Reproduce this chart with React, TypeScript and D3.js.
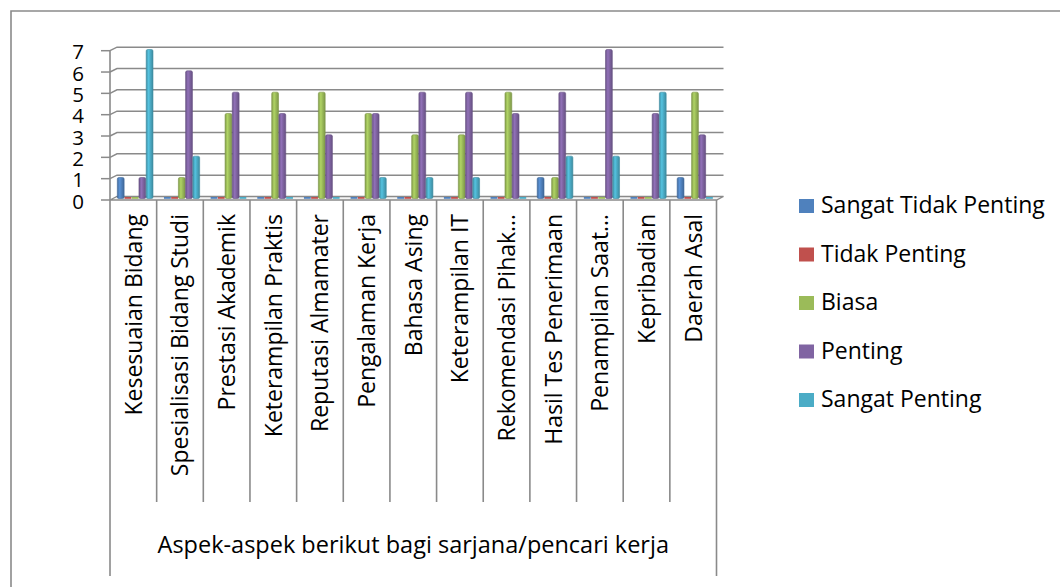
import React from "react";
import * as d3 from "d3";

const categories = [
  "Kesesuaian Bidang",
  "Spesialisasi Bidang Studi",
  "Prestasi Akademik",
  "Keterampilan Praktis",
  "Reputasi Almamater",
  "Pengalaman Kerja",
  "Bahasa Asing",
  "Keterampilan IT",
  "Rekomendasi Pihak…",
  "Hasil Tes Penerimaan",
  "Penampilan Saat…",
  "Kepribadian",
  "Daerah Asal",
];

const seriesNames = [
  "Sangat Tidak Penting",
  "Tidak Penting",
  "Biasa",
  "Penting",
  "Sangat Penting",
];

const sangatTidakPenting = [1, 0, 0, 0, 0, 0, 0, 0, 0, 1, 0, 0, 1];
const tidakPenting = [0, 0, 0, 0, 0, 0, 0, 0, 0, 0, 0, 0, 0];
const biasa = [0, 1, 4, 5, 5, 4, 3, 3, 5, 1, 0, 0, 5];
const penting = [1, 6, 5, 4, 3, 4, 5, 5, 4, 5, 7, 4, 3];
const sangatPenting = [7, 2, 0, 0, 0, 1, 1, 1, 0, 2, 2, 5, 0];

const yTicks = [0, 1, 2, 3, 4, 5, 6, 7];
const axisTitle = "Aspek-aspek berikut bagi sarjana/pencari kerja";

const colors = ["#4F81BD", "#C0504D", "#9BBB59", "#8064A2", "#4BACC6"];

const FONT = "'Open Sans', 'Noto Sans', sans-serif";

export default function App() {
  const seriesValues = [sangatTidakPenting, tidakPenting, biasa, penting, sangatPenting];
  const W = 1060;
  const H = 587;
  const plotLeft = 110;
  const plotRight = 716.5;
  const depthX = 7;
  const depthY = 3.5;

  const x0 = d3.scaleBand<string>().domain(categories).range([plotLeft, plotRight]).padding(0);
  const bw = x0.bandwidth();
  const x1 = d3
    .scaleBand<string>()
    .domain(seriesNames)
    .range([bw * 0.157, bw * 0.93])
    .padding(0);
  const y = d3.scaleLinear().domain([0, 7]).range([200, 50.7]);

  const grey = "#8a8a8a";

  const bars: React.ReactNode[] = [];
  categories.forEach((c, ci) => {
    seriesNames.forEach((s, si) => {
      const v = seriesValues[si][ci];
      const bx = (x0(c) as number) + (x1(s) as number);
      const w = x1.bandwidth() - 0.4;
      if (v === 0) {
        bars.push(
          <rect key={`${ci}-${si}`} x={bx} y={y(0) - 3} width={w} height={1.8} fill={colors[si]} />
        );
      } else {
        const top = y(v) - 1.2;
        const bottom = y(0) - 1.5;
        bars.push(
          <rect
            key={`${ci}-${si}`}
            x={bx}
            y={top}
            width={w}
            height={bottom - top}
            rx={1.5}
            fill={`url(#grad${si})`}
            stroke={d3.color(colors[si])!.darker(0.6).toString()}
            strokeWidth={0.6}
          />
        );
      }
    });
  });

  const boundaries = categories.map((c) => x0(c) as number).concat([plotRight]);

  return (
    <svg width={W} height={H} style={{ position: "absolute", left: 0, top: 0, background: "#fff" }}>
      <defs>
        {colors.map((col, i) => {
          const c = d3.color(col)!;
          return (
            <linearGradient key={i} id={`grad${i}`} x1="0" x2="1" y1="0" y2="0">
              <stop offset="0%" stopColor={c.darker(0.5).toString()} />
              <stop offset="35%" stopColor={c.brighter(0.35).toString()} />
              <stop offset="60%" stopColor={c.toString()} />
              <stop offset="100%" stopColor={c.darker(0.6).toString()} />
            </linearGradient>
          );
        })}
      </defs>
      <rect x={0} y={0} width={W} height={H} fill="#fff" />
      {/* outer frame */}
      <path d={`M11,${H + 5} L11,11 L${W + 5},11`} fill="none" stroke={grey} strokeWidth={1.6} />

      {/* gridlines */}
      {yTicks
        .filter((t) => t > 0)
        .map((t) => (
          <path
            key={t}
            d={`M${plotLeft},${y(t)} L${plotLeft + depthX},${y(t) - depthY} L${plotRight + depthX},${y(t) - depthY}`}
            fill="none"
            stroke={grey}
            strokeWidth={1.5}
          />
        ))}
      {/* floor */}
      <polygon
        points={`${plotLeft},${y(0)} ${plotRight},${y(0)} ${plotRight + depthX},${y(0) - depthY} ${plotLeft + depthX},${y(0) - depthY}`}
        fill="#f4f4f4"
        stroke={grey}
        strokeWidth={1.3}
      />
      {/* y axis */}
      <line x1={plotLeft} x2={plotLeft} y1={y(7)} y2={y(0)} stroke={grey} strokeWidth={1.6} />
      {yTicks.map((t) => (
        <g key={t}>
          <line x1={plotLeft - 9} x2={plotLeft} y1={y(t)} y2={y(t)} stroke={grey} strokeWidth={1.5} />
          <text x={84} y={y(t) + 8.5} textAnchor="end" fontFamily={FONT} fontSize={20.5} fill="#000">
            {t}
          </text>
        </g>
      ))}

      {bars}

      {/* category dividers */}
      {boundaries.map((bx, i) => (
        <line
          key={i}
          x1={bx}
          x2={bx}
          y1={y(0)}
          y2={i === 0 || i === boundaries.length - 1 ? 576 : 502}
          stroke={grey}
          strokeWidth={1.6}
        />
      ))}
      {categories.map((c) => {
        const cx = (x0(c) as number) + bw / 2;
        return (
          <text
            key={c}
            transform={`translate(${cx + 8.5},214) rotate(-90)`}
            textAnchor="end"
            fontFamily={FONT}
            fontSize={23}
            fill="#000"
          >
            {c}
          </text>
        );
      })}
      <text
        x={(plotLeft + plotRight) / 2}
        y={553}
        textAnchor="middle"
        fontFamily={FONT}
        fontSize={23.5}
        fill="#000"
      >
        {axisTitle}
      </text>

      {/* legend */}
      {seriesNames.map((s, i) => {
        const by = 213 + i * 48.5;
        return (
          <g key={s}>
            <rect x={799} y={by - 14} width={15} height={14} fill={colors[i]} />
            <text x={821} y={by} fontFamily={FONT} fontSize={23} fill="#000">
              {s}
            </text>
          </g>
        );
      })}
    </svg>
  );
}
